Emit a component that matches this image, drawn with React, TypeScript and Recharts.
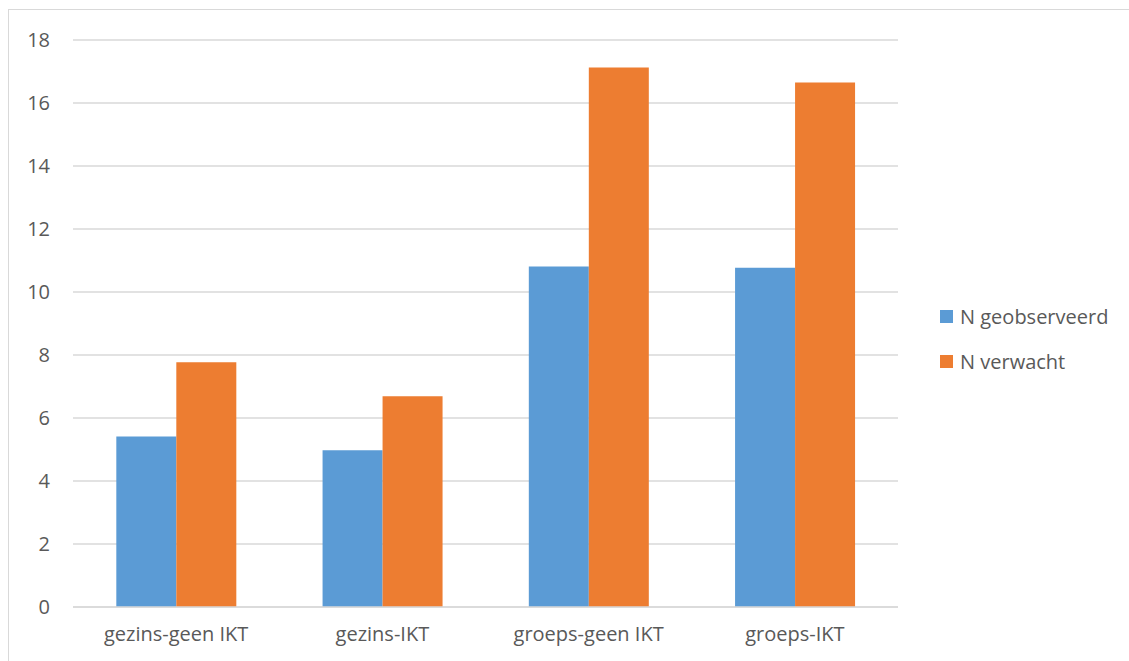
import { BarChart, Bar, XAxis, YAxis, CartesianGrid } from "recharts";

const categories = ["gezins-geen IKT", "gezins-IKT", "groeps-geen IKT", "groeps-IKT"];
const observed = [5.41, 4.98, 10.81, 10.77];
const expected = [7.77, 6.69, 17.13, 16.65];
const yTicks = [0, 2, 4, 6, 8, 10, 12, 14, 16, 18];

const seriesNames = ["N geobserveerd", "N verwacht"];
const seriesColors = ["#5B9BD5", "#ED7D31"];

const rows = categories.map((name, i) => ({
  name,
  observed: observed[i],
  expected: expected[i],
}));

const font = "'Open Sans', sans-serif";

export default function App() {
  return (
    <div
      style={{
        position: "absolute",
        left: 8,
        top: 9,
        width: 1200,
        height: 700,
        border: "1.5px solid #D9D9D9",
        background: "#fff",
        boxSizing: "border-box",
      }}
    >
      <BarChart
        width={1120}
        height={650}
        data={rows}
        margin={{ top: 30, right: 231, left: 24, bottom: 23 }}
        barCategoryGap="21%"
        barGap={0}
      >
        <CartesianGrid vertical={false} stroke="#D9D9D9" strokeWidth={1.5} />
        <XAxis
          dataKey="name"
          axisLine={{ stroke: "#D9D9D9", strokeWidth: 1.5 }}
          tickLine={false}
          tickSize={0}
          tickMargin={20}
          height={30}
          tick={{ fill: "#595959", fontSize: 20, fontFamily: font }}
        />
        <YAxis
          domain={[0, 18]}
          ticks={yTicks}
          axisLine={false}
          tickLine={false}
          tickSize={0}
          tickMargin={23}
          width={40}
          tick={{ fill: "#595959", fontSize: 20, fontFamily: font }}
        />
        <Bar dataKey="observed" name={seriesNames[0]} fill={seriesColors[0]} isAnimationActive={false} />
        <Bar dataKey="expected" name={seriesNames[1]} fill={seriesColors[1]} isAnimationActive={false} />
      </BarChart>
      <div
        style={{
          position: "absolute",
          left: 931,
          top: 284,
          fontFamily: font,
          fontSize: 20,
          color: "#595959",
        }}
      >
        {seriesNames.map((name, i) => (
          <div key={name} style={{ display: "flex", alignItems: "center", height: 45 }}>
            <span style={{ width: 13, height: 13, background: seriesColors[i], marginRight: 7 }} />
            <span>{name}</span>
          </div>
        ))}
      </div>
    </div>
  );
}
